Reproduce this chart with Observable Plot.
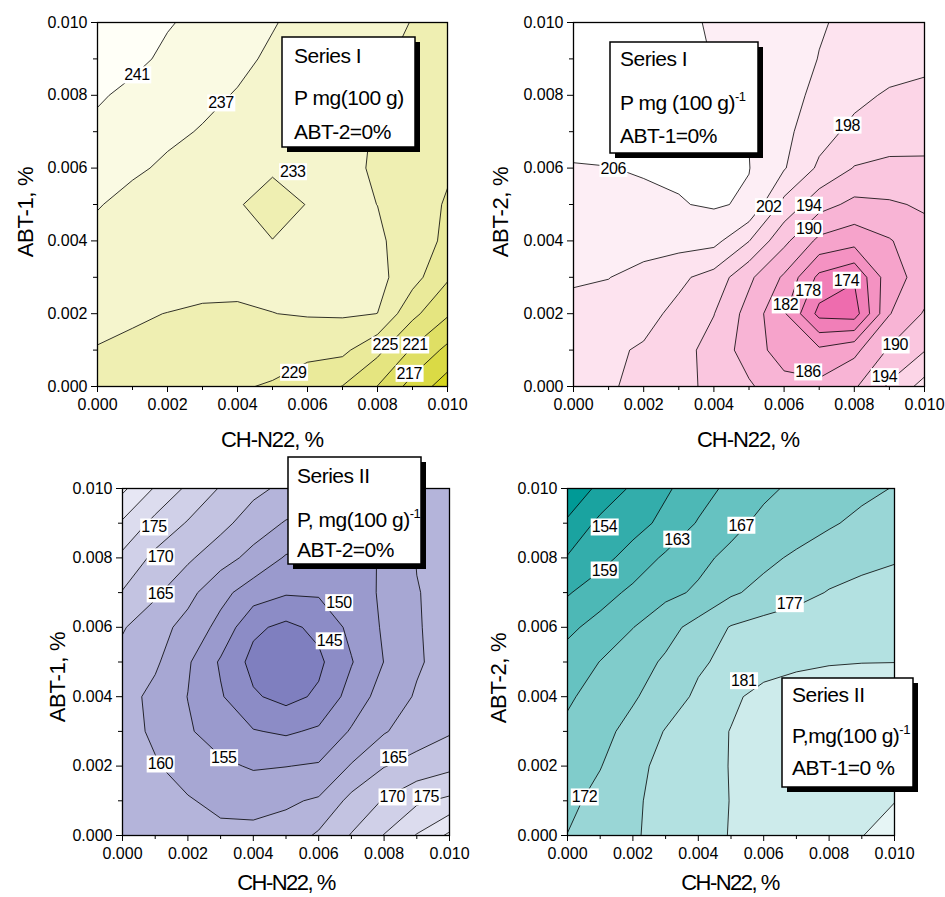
<!DOCTYPE html>
<html><head><meta charset="utf-8">
<script src="https://cdn.jsdelivr.net/npm/d3@7"></script>
<script src="https://cdn.jsdelivr.net/npm/@observablehq/plot@0.6"></script>
<style>
body{margin:0;background:#fff;}
#fig{position:relative;width:945px;height:897px;overflow:hidden;font-family:"Liberation Sans",Arial,sans-serif;}
#fig svg.panel{position:absolute;}
#overlay{position:absolute;left:0;top:0;}
</style></head>
<body><div id="fig"></div>
<script>
// ---- shared axis data ----
const xTicks = [0, 0.002, 0.004, 0.006, 0.008, 0.010];
const xMinor = [0.001, 0.003, 0.005, 0.007, 0.009];

// ---- Panel A (top-left): Series I, ABT-1 vs CH-N22, ABT-2=0% ----
// grid rows from ABT = 0.010 (top) down to 0.000, columns CH-N22 = 0.000..0.010 step 0.001
const gridA = [
  [245, 243.5, 241.3, 240, 238.6, 237.2, 236, 235, 234, 232.9, 232],
  [244, 242, 240.2, 239, 237.7, 236.5, 235.5, 234.5, 233.5, 232.3, 231.5],
  [241.5, 240, 238.8, 237.7, 236.8, 235.8, 235, 234.2, 233.3, 232, 231],
  [240, 238.8, 237.6, 236.8, 236, 235.2, 234.5, 233.7, 232.8, 231.5, 230.3],
  [238.5, 237.5, 236.5, 235.5, 234.5, 233.2, 233.6, 233.8, 232.6, 231, 229.5],
  [237.2, 236, 235, 234, 233.12, 232.4, 233.05, 233.7, 232.98, 231, 228.6],
  [236, 235.2, 234.6, 234, 233.5, 233.03, 233.4, 234, 233.5, 231.5, 228],
  [235, 234.7, 234.3, 234, 234, 234, 234.2, 234.3, 234.2, 230.5, 225.5],
  [233.6, 233.3, 232.95, 232.6, 232.5, 232.95, 233.3, 233.4, 232.98, 226, 221.5],
  [232.9, 232.55, 232, 231.8, 231.6, 231, 230, 229.9, 226, 220.5, 216],
  [231.5, 231.3, 231, 230.3, 229.4, 228.6, 227, 224.9, 220.9, 215.5, 211]
];
const levelsA = [213, 217, 221, 225, 229, 233, 237, 241];
const colorsA = ["#d5d51e", "#dada45", "#dfdf64", "#e5e580", "#eaea9a", "#efefb2", "#f5f5cd", "#fafae3", "#fffff7"];
const labelXA = [0.00113, 0.00353, 0.00558, 0.00822, 0.00907, 0.00561, 0.00891];
const labelYA = [0.00855, 0.00778, 0.00589, 0.00113, 0.00113, 0.00038, 0.00035];
const labelTA = ["241", "237", "233", "225", "221", "229", "217"];

// ---- Panel B (top-right): Series I, ABT-2 vs CH-N22, ABT-1=0% ----
const gridB = [
  [210, 209, 208, 206.8, 205.6, 204.5, 203.3, 202.3, 201.2, 200.6, 200],
  [209.5, 208.7, 207.8, 206.9, 205.9, 205, 203.7, 201.9, 200.8, 199.8, 199.2],
  [209, 208.3, 207.5, 206.8, 206.3, 205, 203.2, 201.2, 199, 197.5, 196.8],
  [208.3, 207.8, 207.3, 206.8, 206.4, 205.9, 203, 199.5, 197, 195.5, 195],
  [205.6, 205.9, 206.4, 206.5, 206.5, 206.1, 202.3, 197.3, 193.8, 193.3, 193.5],
  [203.5, 204.3, 205, 205.8, 206.4, 205.5, 196.8, 191.5, 189, 189.5, 190.5],
  [203.5, 203.8, 204, 203.6, 203.2, 198.1, 191, 185, 183.5, 185.7, 188.5],
  [202.6, 202.1, 200.5, 198.8, 196.5, 190.8, 185.4, 177, 174.4, 184.5, 187.5],
  [200.5, 200.2, 199.2, 197, 194.1, 188.5, 182.5, 172.8, 172, 185.8, 190.4],
  [199.3, 198.6, 197.6, 195.5, 192.5, 188.2, 184, 182.8, 185, 190.5, 193.8],
  [199, 198.4, 197, 195.2, 193, 190.5, 187.5, 187, 189.5, 194.6, 199.5]
];
const levelsB = [174, 178, 182, 186, 190, 194, 198, 202, 206];
const colorsB = ["#ee6cae", "#f17fb8", "#f492c2", "#f6a3cb", "#f8b4d5", "#fac6df", "#fcd5e7", "#fde3ef", "#fdeef5", "#ffffff"];
const labelXB = [0.00113, 0.0078, 0.00556, 0.0067, 0.0067, 0.00778, 0.00668, 0.00604, 0.00917, 0.00668, 0.00886];
const labelYB = [0.00598, 0.00717, 0.00493, 0.00497, 0.00433, 0.00291, 0.00264, 0.00223, 0.00113, 0.00039, 0.00026];
const labelTB = ["206", "198", "202", "194", "190", "174", "178", "182", "190", "186", "194"];

// ---- Panel C (bottom-left): Series II, ABT-1 vs CH-N22, ABT-2=0% ----
const gridC = [
  [186, 179.5, 174, 169.6, 166.3, 163.8, 162.3, 161.6, 161.5, 162, 162.5],
  [179.3, 173.5, 169.6, 166.5, 162.5, 159.6, 158.5, 158.5, 159.3, 161, 162],
  [173.8, 168.8, 165.8, 162, 158.5, 154.5, 153.5, 154, 155.3, 160.2, 161.8],
  [169.7, 165.8, 161.5, 156.5, 152.5, 150.5, 150.6, 152.5, 155.8, 159.8, 161.5],
  [165.4, 162, 158.3, 153.5, 146, 143.8, 146.2, 151.3, 155.6, 159.6, 162],
  [163.5, 160.8, 155.6, 149.4, 143.5, 142, 144, 149.7, 155.1, 159.4, 162],
  [162, 158.6, 154.9, 150.5, 145.6, 143.5, 145.8, 152, 157.2, 160.5, 163.2],
  [161.8, 159.2, 155.6, 152.5, 150.3, 149.3, 150.8, 155.5, 159.6, 162.6, 164.5],
  [161.6, 160.4, 158, 156, 154.5, 154.9, 155.5, 160.4, 164.8, 166.8, 168.8],
  [162.3, 161.4, 160.4, 158.8, 158.5, 159.3, 160.6, 166.5, 170.4, 174.2, 176],
  [162.5, 162.2, 161.7, 161.2, 161.2, 162, 165.8, 170.3, 175.2, 180.3, 186]
];
const levelsC = [145, 150, 155, 160, 165, 170, 175, 180, 185];
const colorsC = ["#7f7fbf", "#8c8cc6", "#9a9acd", "#a7a7d3", "#b4b4da", "#c3c3e1", "#d0d0e8", "#dcdcee", "#e7e7f4", "#f2f2f9"];
const labelXC = [0.00096, 0.00116, 0.00116, 0.00662, 0.00633, 0.00116, 0.0031, 0.0083, 0.00825, 0.00929];
const labelYC = [0.00888, 0.00802, 0.00695, 0.0067, 0.0056, 0.00205, 0.00223, 0.00223, 0.0011, 0.0011];
const labelTC = ["175", "170", "165", "150", "145", "160", "155", "165", "170", "175"];

// ---- Panel D (bottom-right): Series II, ABT-2 vs CH-N22, ABT-1=0% ----
const gridD = [
  [147, 151, 154.7, 158.4, 161.3, 164, 166, 168, 169.6, 171, 172.2],
  [150.6, 155, 157.3, 160.2, 163.3, 165.6, 168.2, 169.6, 171.5, 173, 174.3],
  [154.3, 157.5, 160.8, 163.6, 165.8, 168.2, 170.8, 172.8, 174.3, 175.5, 176.5],
  [158.6, 161.5, 163.8, 165.8, 167.7, 171.3, 173.5, 175.3, 177.3, 178.5, 179.2],
  [162.2, 164.3, 166.9, 170.2, 173.8, 177.3, 178.8, 179.7, 180.3, 180.5, 180.6],
  [164.5, 167.1, 169.8, 172.7, 176.2, 178.5, 179.6, 180.2, 180.7, 180.9, 180.95],
  [166.3, 169, 171.5, 174.3, 178, 180.4, 182, 183, 183.5, 183.8, 184],
  [168, 170.7, 173.4, 177.3, 179.6, 181.1, 183.2, 184.3, 185, 185.4, 185.6],
  [169.3, 171.8, 175.5, 178.5, 180, 181.1, 183.5, 184.7, 185.3, 185.7, 185.9],
  [170.8, 173.5, 176.3, 178.5, 180.2, 181.05, 183.5, 184.8, 185.4, 185.8, 185.95],
  [172.1, 174.3, 176.5, 178.5, 180.2, 181.1, 183.6, 184.9, 185.6, 185.95, 186.8]
];
const levelsD = [150, 154, 159, 163, 167, 172, 177, 181, 186];
const colorsD = ["#009a96", "#1aa3a0", "#33adab", "#4db8b6", "#66c2c1", "#80cccb", "#99d6d6", "#b3e1e1", "#cdebeb", "#e6f5f5"];
const labelXD = [0.00113, 0.00113, 0.00335, 0.00531, 0.00679, 0.00539, 0.00052];
const labelYD = [0.00888, 0.00764, 0.00853, 0.00893, 0.00667, 0.00445, 0.0011];
const labelTD = ["154", "159", "163", "167", "177", "181", "172"];

// ---- layout ----
const FONT = "'Liberation Sans', Arial, sans-serif";
const ML = 60, MR = 12, MT = 12, MB = 40;
const fig = document.getElementById("fig");
const NS = "http://www.w3.org/2000/svg";

function panel(grid, levels, colors, lx, ly, lt, frame) {
  const labels = lt.map((t, i) => ({x: lx[i], y: ly[i], t}));
  const fmt = d3.format(".3f");
  const svg = Plot.plot({
    width: frame.w + ML + MR,
    height: frame.h + MT + MB,
    marginLeft: ML, marginRight: MR, marginTop: MT, marginBottom: MB,
    style: {fontFamily: FONT, fontSize: "16px", background: "transparent", color: "black", overflow: "visible"},
    x: {domain: [0, 0.01], label: null},
    y: {domain: [0, 0.01], label: null},
    color: {type: "threshold", domain: levels, range: colors},
    marks: [
      Plot.contour(grid.flat(), {
        value: d => d, width: 11, height: 11,
        x1: -0.0005, x2: 0.0105, y1: 0.0105, y2: -0.0005,
        thresholds: [levels[0] - 100, ...levels],
        fill: "value", stroke: "black", strokeWidth: 0.8, clip: true
      }),
      Plot.text(labels, {x: "x", y: "y", text: "t", fontSize: 16, fill: "black", clip: true}),
      Plot.frame({stroke: "black", strokeWidth: 1.3}),
      Plot.axisX(xTicks, {tickSize: 6, tickPadding: 6, tickFormat: fmt, label: null, fontSize: 16}),
      Plot.axisX(xMinor, {tickSize: 4, tickFormat: () => "", label: null}),
      Plot.axisY(xTicks, {tickSize: 6, tickPadding: 4, tickFormat: fmt, label: null, fontSize: 16}),
      Plot.axisY(xMinor, {tickSize: 4, tickFormat: () => "", label: null})
    ]
  });
  svg.classList.add("panel");
  svg.style.left = (frame.x - ML) + "px";
  svg.style.top = (frame.y - MT) + "px";
  fig.appendChild(svg);
  // white boxes behind contour labels
  svg.querySelectorAll('g[aria-label="text"] text').forEach(t => {
    t.setAttribute("letter-spacing", "-0.4");
    const b = t.getBBox();
    const r = document.createElementNS(NS, "rect");
    r.setAttribute("x", b.x - 1);
    r.setAttribute("y", b.y);
    r.setAttribute("width", b.width + 2);
    r.setAttribute("height", b.height);
    r.setAttribute("fill", "white");
    const tr = t.getAttribute("transform");
    if (tr) r.setAttribute("transform", tr);
    t.parentNode.insertBefore(r, t);
  });
}

panel(gridA, levelsA, colorsA, labelXA, labelYA, labelTA, {x: 97, y: 22, w: 350, h: 364});
panel(gridB, levelsB, colorsB, labelXB, labelYB, labelTB, {x: 573, y: 22, w: 351, h: 364});
panel(gridC, levelsC, colorsC, labelXC, labelYC, labelTC, {x: 122, y: 488, w: 327, h: 347});
panel(gridD, levelsD, colorsD, labelXD, labelYD, labelTD, {x: 567, y: 488, w: 327, h: 347});

// ---- overlay: axis titles and annotation boxes ----
const ov = document.createElementNS(NS, "svg");
ov.setAttribute("id", "overlay");
ov.setAttribute("width", 945);
ov.setAttribute("height", 897);
ov.setAttribute("font-family", FONT);
fig.appendChild(ov);

function txt(x, y, s, size, opts = {}) {
  const t = document.createElementNS(NS, "text");
  t.setAttribute("x", x); t.setAttribute("y", y);
  t.setAttribute("font-size", size);
  if (opts.anchor) t.setAttribute("text-anchor", opts.anchor);
  if (opts.rotate) t.setAttribute("transform", `rotate(-90 ${x} ${y})`);
  if (opts.ls != null) t.setAttribute("letter-spacing", opts.ls);
  t.textContent = s;
  if (opts.sup) {
    const sp = document.createElementNS(NS, "tspan");
    sp.setAttribute("font-size", 13);
    sp.setAttribute("dy", -9);
    sp.textContent = opts.sup;
    t.appendChild(sp);
  }
  ov.appendChild(t);
  return t;
}

const xTitle = "CH-N22, %";
txt(272, 447, xTitle, 22, {anchor: "middle", ls: -1});
txt(748, 447, xTitle, 22, {anchor: "middle", ls: -1});
txt(286, 890, xTitle, 22, {anchor: "middle", ls: -1.5});
txt(730, 890, xTitle, 22, {anchor: "middle", ls: -1.5});
txt(33, 212, "ABT-1, %", 22, {anchor: "middle", rotate: true, ls: -0.3});
txt(508, 212, "ABT-2, %", 22, {anchor: "middle", rotate: true, ls: -0.3});
txt(65, 677, "ABT-1, %", 22, {anchor: "middle", rotate: true, ls: -0.3});
txt(506, 678, "ABT-2, %", 22, {anchor: "middle", rotate: true, ls: -0.3});

function box(x, y, w, h, lines) {
  const sh = document.createElementNS(NS, "rect");
  sh.setAttribute("x", x + 5); sh.setAttribute("y", y + 5);
  sh.setAttribute("width", w); sh.setAttribute("height", h);
  sh.setAttribute("fill", "black");
  ov.appendChild(sh);
  const r = document.createElementNS(NS, "rect");
  r.setAttribute("x", x); r.setAttribute("y", y);
  r.setAttribute("width", w); r.setAttribute("height", h);
  r.setAttribute("fill", "white"); r.setAttribute("stroke", "black"); r.setAttribute("stroke-width", 1.5);
  ov.appendChild(r);
  lines.forEach(l => txt(l.x, l.y, l.s, 21, {ls: -0.5, sup: l.sup}));
}

box(282, 37, 133, 110, [
  {x: 294, y: 63, s: "Series I"},
  {x: 294, y: 105, s: "P mg(100 g)"},
  {x: 294, y: 139, s: "ABT-2=0%"}
]);
box(610, 42, 148, 111, [
  {x: 620, y: 66, s: "Series I"},
  {x: 620, y: 110, s: "P mg (100 g)", sup: "-1"},
  {x: 620, y: 143, s: "ABT-1=0%"}
]);
box(288, 457, 133, 107, [
  {x: 297, y: 483, s: "Series II"},
  {x: 297, y: 527, s: "P, mg(100 g)", sup: "-1"},
  {x: 297, y: 557, s: "ABT-2=0%"}
]);
box(782, 678, 131, 109, [
  {x: 792, y: 702, s: "Series II"},
  {x: 792, y: 743, s: "P,mg(100 g)", sup: "-1"},
  {x: 792, y: 775, s: "ABT-1=0 %"}
]);
</script>
</body></html>
